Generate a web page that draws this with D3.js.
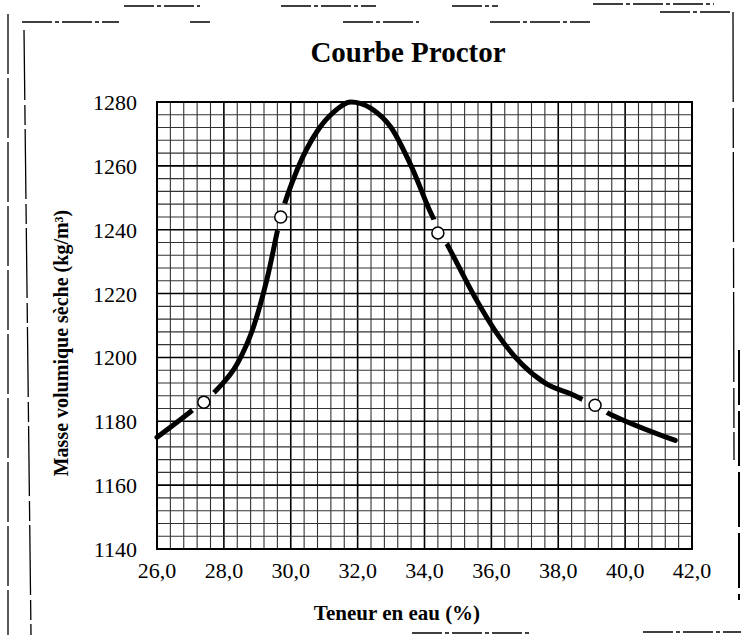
<!DOCTYPE html>
<html>
<head>
<meta charset="utf-8">
<script src="https://cdn.jsdelivr.net/npm/d3@7"></script>
<style>
  html, body { margin: 0; padding: 0; background: #fff; }
  svg { display: block; }
  text { font-family: "Liberation Serif", "DejaVu Serif", serif; fill: #000; }
</style>
</head>
<body>
<svg id="chart" width="741" height="635"></svg>
<script>
// Measured points (teneur en eau %, masse volumique seche kg/m3)
const pointsWater = [27.4, 29.7, 34.4, 39.1];
const pointsDensity = [1186, 1244, 1239, 1185];

// Curve
const curveWater = [26.0, 27.0, 27.8, 28.4, 28.9, 29.3, 29.7, 30.2, 30.8, 31.3, 31.8, 32.4, 33.0, 33.6, 34.2, 34.8, 35.5, 36.2, 36.9, 37.6, 38.5, 39.6, 41.5];
const curveDensity = [1175, 1183, 1190, 1198, 1210, 1225, 1244, 1259, 1271, 1277, 1280, 1278, 1272, 1260, 1245, 1233, 1219, 1207, 1198, 1192, 1188, 1182, 1174];

const xTicks = [26, 28, 30, 32, 34, 36, 38, 40, 42];
const yTicks = [1140, 1160, 1180, 1200, 1220, 1240, 1260, 1280];

const svg = d3.select("#chart");
const plot = { left: 157, right: 692, top: 102, bottom: 549 };

const x = d3.scaleLinear().domain([26, 42]).range([plot.left, plot.right]);
const y = d3.scaleLinear().domain([1140, 1280]).range([plot.bottom, plot.top]);

// Scan frame (broken border lines around the figure)
const frame = svg.append("g").attr("stroke", "#000").attr("fill", "none");
const frameSegs = [
    [124, 6, 200, 6], [281, 6, 376, 6], [452, 6, 498, 6], [593, 4, 714, 4],
    [22, 22, 119, 22], [190, 22, 210, 22], [343, 22, 419, 22], [490, 22, 590, 22], [660, 12, 733, 12],
    [412, 633, 531, 633], [643, 632, 741, 632]
];
frameSegs.forEach(s => frame.append("line")
    .attr("x1", s[0]).attr("y1", s[1]).attr("x2", s[2]).attr("y2", s[3])
    .attr("stroke-width", 1.5).attr("stroke-dasharray", "30,3,4,3"));
frame.append("line").attr("x1", 8).attr("y1", 14).attr("x2", 8).attr("y2", 635)
    .attr("stroke-width", 1.3).attr("stroke-dasharray", "60,4");
frame.append("line").attr("x1", 24).attr("y1", 30).attr("x2", 31).attr("y2", 635)
    .attr("stroke-width", 1.3).attr("stroke-dasharray", "70,5,20,4");
frame.append("line").attr("x1", 733).attr("y1", 12).attr("x2", 734).attr("y2", 460)
    .attr("stroke-width", 1.3).attr("stroke-dasharray", "90,6,40,4");
frame.append("line").attr("x1", 739).attr("y1", 350).attr("x2", 739).attr("y2", 600)
    .attr("stroke-width", 2).attr("stroke-dasharray", "55,6");

// Title
svg.append("text")
    .attr("x", 408).attr("y", 62)
    .attr("text-anchor", "middle")
    .style("font-size", "29px").style("font-weight", "bold")
    .text("Courbe Proctor");

// Millimetre-style grid
const grid = svg.append("g");
const xMinor = d3.range(0, 41).map(i => 26 + i * 0.4);
const yMinor = d3.range(0, 36).map(i => 1140 + i * 4);

grid.selectAll(".vx").data(xMinor).enter().append("line")
    .attr("x1", d => x(d)).attr("x2", d => x(d))
    .attr("y1", plot.top).attr("y2", plot.bottom)
    .attr("stroke", (d, i) => i % 5 === 0 ? "#000" : "#333")
    .attr("stroke-width", (d, i) => i % 5 === 0 ? 1.6 : 1.1);

grid.selectAll(".hy").data(yMinor).enter().append("line")
    .attr("x1", plot.left).attr("x2", plot.right)
    .attr("y1", d => y(d)).attr("y2", d => y(d))
    .attr("stroke", (d, i) => i % 5 === 0 ? "#000" : "#333")
    .attr("stroke-width", (d, i) => i % 5 === 0 ? 1.6 : 1.1);

svg.append("rect")
    .attr("x", plot.left).attr("y", plot.top)
    .attr("width", plot.right - plot.left).attr("height", plot.bottom - plot.top)
    .attr("fill", "none").attr("stroke", "#000").attr("stroke-width", 2);

// Tick labels
svg.selectAll(".xl").data(xTicks).enter().append("text")
    .attr("x", d => x(d)).attr("y", 578)
    .attr("text-anchor", "middle")
    .style("font-size", "22px")
    .text(d => d.toFixed(1).replace(".", ","));

svg.selectAll(".yl").data(yTicks).enter().append("text")
    .attr("x", 137).attr("y", d => y(d) + 3)
    .attr("text-anchor", "end")
    .attr("dominant-baseline", "middle")
    .style("font-size", "22px")
    .text(d => d);

// Axis titles
svg.append("text")
    .attr("x", 397).attr("y", 620)
    .attr("text-anchor", "middle")
    .style("font-size", "21px").style("font-weight", "bold")
    .text("Teneur en eau (%)");

svg.append("text")
    .attr("transform", "translate(68,343) rotate(-90)")
    .attr("text-anchor", "middle")
    .style("font-size", "20px").style("font-weight", "bold")
    .text("Masse volumique sèche (kg/m³)");

// Curve, broken around the measured points
const mask = svg.append("defs").append("mask").attr("id", "gaps");
mask.append("rect").attr("x", 0).attr("y", 0).attr("width", 741).attr("height", 635).attr("fill", "#fff");
mask.selectAll("circle").data(pointsWater).enter().append("circle")
    .attr("cx", d => x(d)).attr("cy", (d, i) => y(pointsDensity[i]))
    .attr("r", 14).attr("fill", "#000");

const line = d3.line()
    .x(d => x(d))
    .y((d, i) => y(curveDensity[i]))
    .curve(d3.curveMonotoneX);

svg.append("path")
    .attr("d", line(curveWater))
    .attr("fill", "none")
    .attr("stroke", "#000")
    .attr("stroke-width", 5)
    .attr("stroke-linecap", "round")
    .attr("mask", "url(#gaps)");

svg.selectAll(".pt").data(pointsWater).enter().append("circle")
    .attr("cx", d => x(d)).attr("cy", (d, i) => y(pointsDensity[i]))
    .attr("r", 6)
    .attr("fill", "#fff")
    .attr("stroke", "#000")
    .attr("stroke-width", 1.5);
</script>
</body>
</html>
